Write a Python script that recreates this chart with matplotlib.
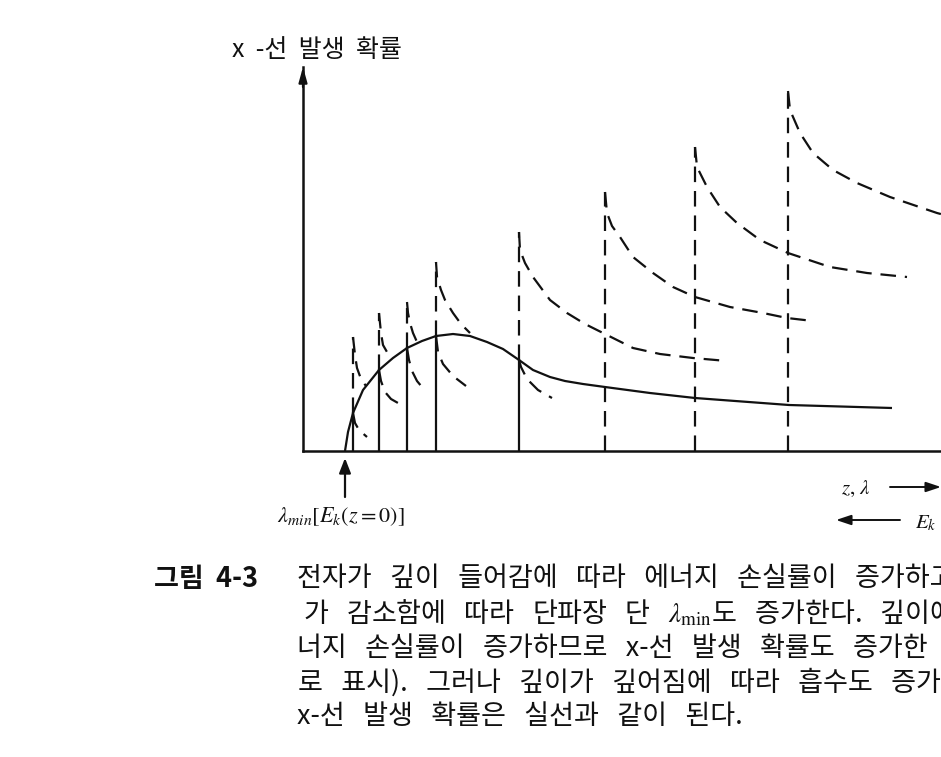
import numpy as np
import matplotlib
matplotlib.use("Agg")
import matplotlib.pyplot as plt

plt.rcParams['font.family'] = ['Noto Sans CJK KR', 'DejaVu Sans']
plt.rcParams['mathtext.fontset'] = 'stix'

W, H = 941, 757
ORIGIN = (303, 451)   # pixel position of the axes corner in the picture
INK = '#111111'

# solid curve: x-ray probability with absorption
main_x = [42, 45, 50, 60, 76, 90, 104, 119, 133, 150, 167, 184, 200, 216,
          230, 247, 262, 280, 302, 347, 392, 486, 589]
main_y = [0, 19, 38, 61, 81, 93, 103, 110, 115, 117, 115, 109, 102, 91,
          81, 74, 70, 67, 64, 58, 53, 46, 43]

# edges (lambda_min at increasing depth)
edge_x = [50, 76, 104, 133, 216, 302, 392, 485]
edge_top = [114, 138, 149, 189, 219, 259, 304, 360]
edge_cross = [38, 81, 103, 115, 91]   # where the solid curve meets the first edges

# dashed curves starting at the top of each edge
upper_x = [
    [50, 52, 54, 58, 63],
    [76, 78, 80, 84, 89],
    [104, 105, 107, 110, 114],
    [133, 134, 138, 142, 150, 158, 167],
    [216, 217, 222, 230, 247, 264, 282, 302, 330, 357, 390, 424],
    [302, 304, 309, 317, 330, 350, 370, 392, 427, 460, 484, 510],
    [392, 394, 404, 417, 434, 457, 485, 527, 564, 604],
    [485, 487, 497, 510, 530, 554, 587, 634, 660],
]
upper_y = [
    [114, 96, 83, 72, 65],
    [138, 118, 106, 99, 93],
    [149, 138, 128, 118, 109],
    [189, 174, 161, 151, 138, 127, 118],
    [219, 201, 188, 174, 151, 138, 127, 117, 103, 97, 93, 90],
    [259, 238, 225, 214, 194, 178, 164, 154, 144, 138, 133, 130],
    [304, 284, 264, 244, 228, 211, 198, 184, 178, 174],
    [360, 341, 318, 298, 281, 268, 254, 238, 231],
]

# short dashed curves below the solid curve
lower_x = [
    [50, 52, 56, 64],
    [76, 78, 82, 88, 95],
    [104, 106, 109, 114, 119],
    [133, 135, 140, 150, 163],
    [216, 218, 224, 235, 249],
]
lower_y = [
    [38, 28, 21, 14],
    [81, 70, 59, 52, 48],
    [103, 91, 80, 70, 64],
    [115, 99, 87, 75, 65],
    [91, 84, 72, 61, 53],
]

y_label = 'x -선 발생 확률'
caption_head = '그림 4-3'
caption_lines = [
    '전자가 깊이 들어감에 따라 에너지 손실률이 증가하고',
    '가 감소함에 따라 단파장 단 $\\lambda_{\\rm min}$도 증가한다. 깊이에',
    '너지 손실률이 증가하므로 x-선 발생 확률도 증가한',
    '로 표시). 그러나 깊이가 깊어짐에 따라 흡수도 증가하',
    'x-선 발생 확률은 실선과 같이 된다.',
]


def fpos(x, y):
    return x / W, 1 - y / H


def spaced(s, n):
    # the scanned typeface sets words far apart
    return s.replace(' ', ' ' * n)


fig = plt.figure(figsize=(W / 100, H / 100), dpi=100)
fig.patch.set_facecolor('white')
ox, oy = ORIGIN
ax_h = 384
ax = fig.add_axes([ox / W, (H - oy) / H, (W - ox) / W, ax_h / H])
ax.set_xlim(0, W - ox)
ax.set_ylim(0, ax_h)
for side in ('top', 'right'):
    ax.spines[side].set_visible(False)
for side in ('left', 'bottom'):
    ax.spines[side].set_linewidth(1.8)
    ax.spines[side].set_color(INK)
ax.set_xticks([])
ax.set_yticks([])
ax.patch.set_alpha(0)

dash = (0, (7, 4))
lw = 1.6

ax.plot(main_x, main_y, color=INK, lw=lw, solid_capstyle='butt')

for i, (x, top) in enumerate(zip(edge_x, edge_top)):
    if i < len(edge_cross):
        ax.plot([x, x], [0, edge_cross[i]], color=INK, lw=lw)
        ax.plot([x, x], [edge_cross[i], top], color=INK, lw=lw, linestyle=dash)
    else:
        ax.plot([x, x], [0, top], color=INK, lw=lw, linestyle=dash)

for xs, ys in zip(upper_x, upper_y):
    ax.plot(xs, ys, color=INK, lw=lw, linestyle=dash)
for xs, ys in zip(lower_x, lower_y):
    ax.plot(xs, ys, color=INK, lw=lw, linestyle=dash)

# y axis arrow
ax.annotate('', xy=(0, ax_h), xytext=(0, ax_h - 20), annotation_clip=False,
            arrowprops=dict(arrowstyle='-|>,head_length=0.9,head_width=0.25',
                            color=INK, lw=1.6, shrinkA=0, shrinkB=0))

# lambda_min marker
ax.annotate('', xy=(42, -7), xytext=(42, -46), annotation_clip=False,
            arrowprops=dict(arrowstyle='-|>,head_length=0.9,head_width=0.35',
                            color=INK, lw=1.6, shrinkA=0, shrinkB=0))
ax.text(38, -65, r'$\lambda_{min}[E_k(z=0)]$', ha='center', va='center',
        fontsize=16, color=INK, clip_on=False)

# direction arrows at the bottom right
ax.text(553, -37, r'$z,\,\lambda$', ha='center', va='center', fontsize=15,
        color=INK, clip_on=False)
ax.annotate('', xy=(638, -36), xytext=(587, -36), annotation_clip=False,
            arrowprops=dict(arrowstyle='-|>,head_length=0.9,head_width=0.3',
                            color=INK, lw=1.4, shrinkA=0, shrinkB=0))
ax.annotate('', xy=(533, -69), xytext=(597, -69), annotation_clip=False,
            arrowprops=dict(arrowstyle='-|>,head_length=0.9,head_width=0.3',
                            color=INK, lw=1.4, shrinkA=0, shrinkB=0))
ax.text(612, -71, r'$E_k$', ha='left', va='center', fontsize=15,
        color=INK, clip_on=False)

fig.text(*fpos(232, 50), spaced(y_label, 2), ha='left', va='center',
         fontsize=18, color=INK)

fig.text(*fpos(154, 579), spaced(caption_head, 2), ha='left', va='center',
         fontsize=19.5, fontweight='bold', color=INK)
line_y = [579, 613.5, 648, 682.5, 717]
line_x = [297, 303, 297, 298, 297]
for txt, lx, ly in zip(caption_lines, line_x, line_y):
    fig.text(*fpos(lx, ly), spaced(txt, 3), ha='left', va='center',
             fontsize=19.5, color=INK)

fig.savefig('out.png', dpi=100, facecolor='white')
